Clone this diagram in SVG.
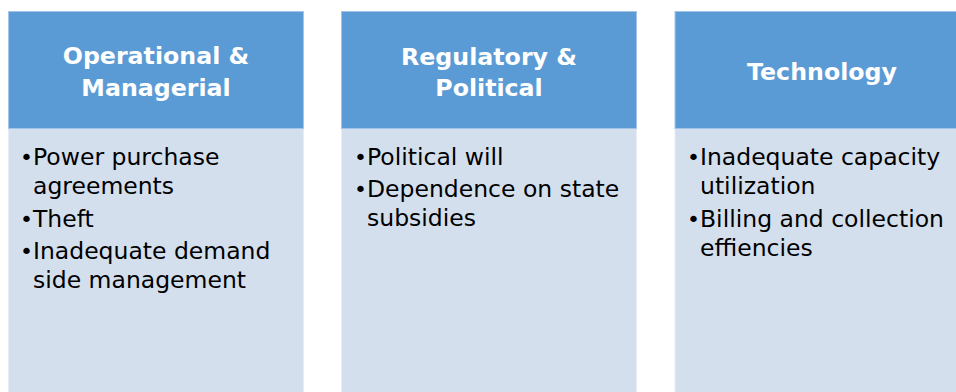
<svg xmlns="http://www.w3.org/2000/svg" width="956" height="392" viewBox="0 0 956 392">
<style>
.hd{fill:#5B9BD5;stroke:#A3C5EA;stroke-width:1}
.bd{fill:#D4DFEE;stroke:#E6EDF7;stroke-width:1}
.ht{font-family:"DejaVu Sans",Verdana,sans-serif;font-weight:bold;font-size:23.7px;fill:#FFFFFF;text-anchor:middle}
.bt{font-family:"DejaVu Sans",Verdana,sans-serif;font-size:23.5px;fill:#000000}
.bl{font-family:"DejaVu Sans",Verdana,sans-serif;font-size:22px;fill:#000000}
</style>
<rect width="956" height="392" fill="#FFFFFF"/>
<g id="col-operational">
<rect class="bd" x="8.5" y="128.5" width="295" height="270"/>
<rect class="hd" x="8.5" y="11.5" width="295" height="117"/>
<text class="ht" x="156" y="64">Operational &amp;</text>
<text class="ht" x="156" y="96">Managerial</text>
<text class="bl" x="20" y="165">•</text><text class="bt" x="33" y="165">Power purchase</text>
<text class="bt" x="33" y="194">agreements</text>
<text class="bl" x="20" y="227">•</text><text class="bt" x="33" y="227">Theft</text>
<text class="bl" x="20" y="259">•</text><text class="bt" x="33" y="259">Inadequate demand</text>
<text class="bt" x="33" y="288">side management</text>
</g>
<g id="col-regulatory">
<rect class="bd" x="341.5" y="128.5" width="295" height="270"/>
<rect class="hd" x="341.5" y="11.5" width="295" height="117"/>
<text class="ht" x="489" y="65">Regulatory &amp;</text>
<text class="ht" x="489" y="96">Political</text>
<text class="bl" x="354" y="165">•</text><text class="bt" x="367" y="165">Political will</text>
<text class="bl" x="354" y="197">•</text><text class="bt" x="367" y="197">Dependence on state</text>
<text class="bt" x="367" y="226">subsidies</text>
</g>
<g id="col-technology">
<rect class="bd" x="675" y="128.5" width="295" height="270"/>
<rect class="hd" x="675" y="11.5" width="295" height="117"/>
<text class="ht" x="822" y="80">Technology</text>
<text class="bl" x="687" y="165">•</text><text class="bt" x="700" y="165">Inadequate capacity</text>
<text class="bt" x="700" y="194">utilization</text>
<text class="bl" x="687" y="227">•</text><text class="bt" x="700" y="227">Billing and collection</text>
<text class="bt" x="700" y="256">effiencies</text>
</g>
<g id="connectors"/>
</svg>
